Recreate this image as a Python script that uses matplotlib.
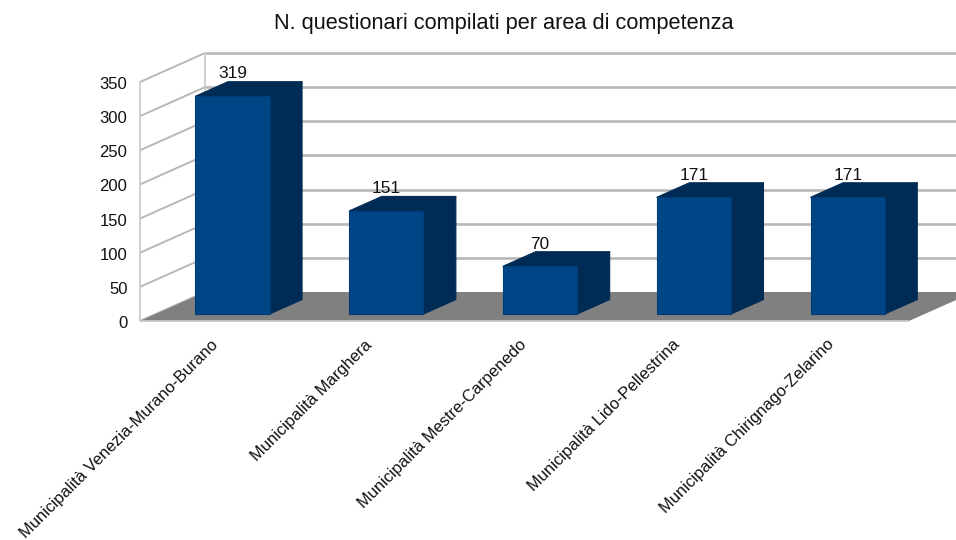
import matplotlib
matplotlib.use("Agg")
import matplotlib.pyplot as plt
from matplotlib.transforms import ScaledTranslation

plt.rcParams['font.family'] = ['Liberation Sans', 'DejaVu Sans']

title = "N. questionari compilati per area di competenza"
categories = ["Municipalità Venezia-Murano-Burano", "Municipalità Marghera",
              "Municipalità Mestre-Carpenedo", "Municipalità Lido-Pellestrina",
              "Municipalità Chirignago-Zelarino"]
values = [319, 151, 70, 171, 171]
yticks = [0, 50, 100, 150, 200, 250, 300, 350]

W, H = 956, 540
FRONT_L, FRONT_R, FRONT_B, FRONT_T = 140, 909, 321, 82
DEPTH_X, DEPTH_Y = 65, 29
BAR_W = 0.482
D0, D1 = 0.24, 0.74

FACE, DARK, FLOOR, GRID = '#004586', '#002b54', '#808080', '#b8b8b8'

fig = plt.figure(figsize=(W / 100, H / 100), dpi=100, facecolor='white')
ax = fig.add_axes([FRONT_L / W, 1 - FRONT_B / H,
                   (FRONT_R - FRONT_L) / W, (FRONT_B - FRONT_T) / H])
ax.set_xlim(-0.5, len(categories) - 0.5)
ax.set_ylim(0, 350)
ax.patch.set_visible(False)
for s in ax.spines.values():
    s.set_visible(False)

sx = (len(categories)) / (FRONT_R - FRONT_L)
sy = 350 / (FRONT_B - FRONT_T)


def proj(x, v, d):
    """Oblique projection: depth d in 0..1 shifts right and up."""
    return x + d * DEPTH_X * sx, v + d * DEPTH_Y * sy


def poly(pts, **kw):
    xs, ys = zip(*[proj(*p) for p in pts])
    ax.fill(xs, ys, clip_on=False, **kw)


def line(pts, **kw):
    xs, ys = zip(*[proj(*p) for p in pts])
    ax.plot(xs, ys, clip_on=False, solid_capstyle='butt', **kw)


xl, xr = -0.5, len(categories) - 0.5
# floor
poly([(xl, 0, 0), (xr, 0, 0), (xr, 0, 1), (xl, 0, 1)], fc=FLOOR, ec='none', zorder=2)
line([(xl, 0, 0), (xr, 0, 0)], color='#c8c8c8', lw=1.3, zorder=2)
# back wall and left wall grid
for t in yticks:
    if t > 0:
        line([(xl, t, 1), (xr, t, 1)], color=GRID, lw=1.9, zorder=1)
    line([(xl, t, 0), (xl, t, 1)], color=GRID, lw=1.4, zorder=1)
line([(xl, 0, 0), (xl, 350, 0)], color='#c8c8c8', lw=1.2, zorder=1)
line([(xl, 0, 1), (xl, 350, 1)], color='#c8c8c8', lw=1.2, zorder=1)

# bars
for i, v in enumerate(values):
    a, b = i - BAR_W / 2, i + BAR_W / 2
    poly([(b, 0, D0), (b, 0, D1), (b, v, D1), (b, v, D0)], fc=DARK, ec=DARK, lw=0.8, joinstyle='round', zorder=3)
    poly([(a, v, D0), (b, v, D0), (b, v, D1), (a, v, D1)], fc=DARK, ec=DARK, lw=0.8, joinstyle='round', zorder=3)
    poly([(a, 0, D0), (b, 0, D0), (b, v, D0), (a, v, D0)], fc=FACE, ec='#003c75', lw=0.8, joinstyle='round', zorder=4)
    px, py = proj(i, v, D0)
    ax.annotate(str(v), (px, py), xytext=(0, 16.0), textcoords='offset points',
                ha='center', va='center', fontsize=12.4, color='#111111',
                annotation_clip=False, zorder=5)

ax.set_yticks(yticks)
ax.set_xticks(range(len(categories)))
ax.set_xticklabels(categories, rotation=45, ha='right', va='top',
                   rotation_mode='anchor', fontsize=11.9, color='#111111')
ax.tick_params(axis='x', length=0, pad=11.5)
ax.tick_params(axis='y', length=0, pad=9, labelsize=12, labelcolor='#111111')

xshift = ScaledTranslation(-6 / 100, 0, fig.dpi_scale_trans)
for lab in ax.get_xticklabels():
    lab.set_transform(lab.get_transform() + xshift)
yshift = ScaledTranslation(0, -1 / 100, fig.dpi_scale_trans)
for lab in ax.get_yticklabels():
    lab.set_transform(lab.get_transform() + yshift)

fig.text(504 / W, 1 - 23 / H, title, ha='center', va='center', fontsize=15.7, color='#111111')

fig.savefig('out.png', dpi=100, facecolor='white')
